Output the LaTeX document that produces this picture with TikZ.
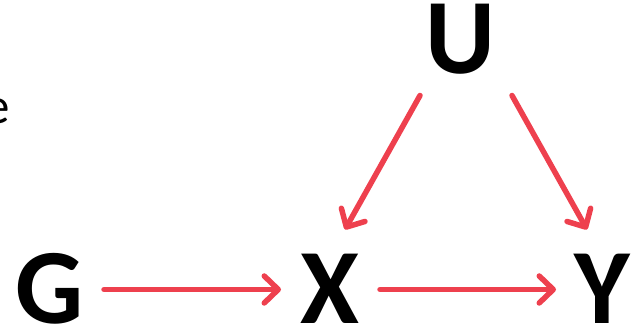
\documentclass[tikz,border=0pt]{standalone}
\usepackage{fontspec}
\setmainfont{Carlito}
\usetikzlibrary{arrows.meta}
\definecolor{arrred}{RGB}{238,64,78}
\tikzset{
  var/.style={font=\bfseries\fontsize{107}{107}\selectfont, inner sep=0pt, outer sep=0pt,
    text height=69pt, text depth=0pt},
  arr/.style={draw=arrred, line width=5.5pt, line cap=round,
    -{Straight Barb[length=14pt, width=27pt, line cap=round, line join=round]}},
}
\begin{document}
\begin{tikzpicture}[x=1pt,y=1pt]
\useasboundingbox (0,0) rectangle (643,329);
\node[var] (G) at (50,39.5) {G};
\node[var] (X) at (330,39.5) {X};
\node[var] (Y) at (602.5,39.5) {Y};
\node[var] (U) at (460,289.5) {U};
\node[font=\fontsize{51}{51}\selectfont, anchor=base east, inner sep=0pt] (txt) at (10.5,205) {e};
\draw[arr] ([xshift=54pt]G.center) -- ([xshift=-49pt]X.center);
\draw[arr] ([xshift=50pt]X.center) -- ([xshift=-46.5pt]Y.center);
\draw[arr] ([shift={(-40pt,-56pt)}]U.center) -- ([shift={(15pt,60pt)}]X.center);
\draw[arr] ([shift={(52pt,-56pt)}]U.center) -- ([shift={(-15.5pt,60pt)}]Y.center);
\end{tikzpicture}
\end{document}
